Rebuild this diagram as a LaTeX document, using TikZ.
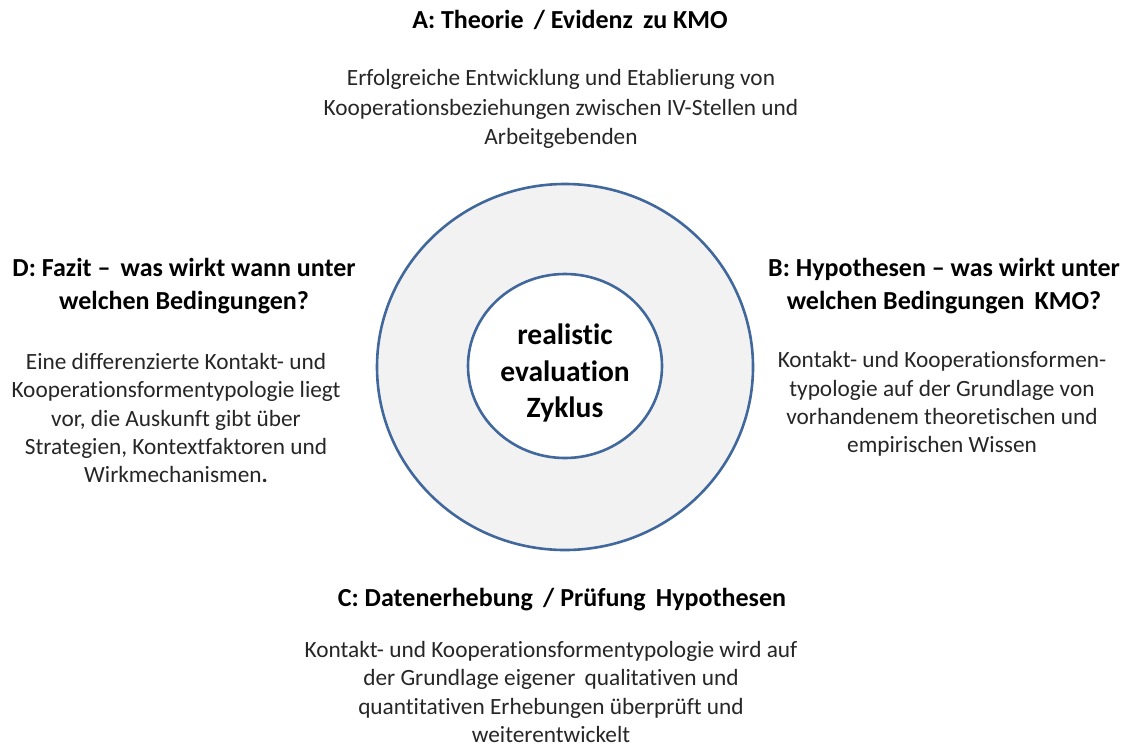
\documentclass[tikz,border=0pt]{standalone}
\usepackage{fontspec}
\setmainfont{Carlito}[Ligatures=NoCommon]
\usetikzlibrary{shapes.geometric}
\definecolor{ringblue}{HTML}{41689C}
\definecolor{ringfill}{HTML}{F2F2F2}
\definecolor{textgray}{HTML}{262626}
\begin{document}
\begin{tikzpicture}[x=1pt,y=-1pt,
  ring/.style={ellipse, draw=ringblue, line width=2.6pt, inner sep=0pt},
  head/.style={font=\fontsize{26}{32.5}\selectfont\bfseries, align=center, inner sep=0pt},
  body/.style={font=\fontsize{23.3}{28.3}\selectfont, align=center, inner sep=0pt, text=textgray},
  core/.style={font=\fontsize{29.5}{36.5}\selectfont\bfseries, align=center, inner sep=0pt}]
\useasboundingbox (0,0) rectangle (1129,747);
\fill[white] (0,0) rectangle (1129,747);

% the two rings of the cycle
\node (outer) [ring, fill=ringfill, minimum width=376pt, minimum height=366pt] at (565,367) {};
\node (inner) [ring, fill=white, minimum width=194pt, minimum height=184pt] at (565,366) {};
\node (cycle) [core] at (565,373) {realistic\\evaluation\\Zyklus};

% A: top
\node (Ahead) [head] at (570,20) {A: Theorie\,\ / Evidenz\,\ zu KMO};
\node (Abody) [body, font=\fontsize{23.3}{29.3}\selectfont] at (561,109) {Erfolgreiche Entwicklung und Etablierung von\\Kooperationsbeziehungen zwischen IV-Stellen und\\Arbeitgebenden};

% B: right
\node (Bhead) [head] at (944,286) {B: Hypothesen -- was wirkt unter\\welchen Bedingungen\,\ KMO?};
\node (Bbody) [body] at (942,404) {Kontakt- und Kooperationsformen-\\typologie auf der Grundlage von\\vorhandenem theoretischen und\\empirischen Wissen};

% C: bottom
\node (Chead) [head] at (562,600) {C: Datenerhebung\,\ / Prüfung\,\ Hypothesen};
\node (Cbody) [body] at (551,692) {Kontakt- und Kooperationsformentypologie wird auf\\der Grundlage eigener\, qualitativen und\\quantitativen Erhebungen überprüft und\\weiterentwickelt};

% D: left
\node (Dhead) [head] at (184,286) {D: Fazit --\,\ was wirkt wann unter\\welchen Bedingungen?};
\node (Dbody) [body] at (176,418) {Eine differenzierte Kontakt- und\\Kooperationsformentypologie liegt\\vor, die Auskunft gibt über\\Strategien, Kontextfaktoren und\\Wirkmechanismen\textbf{.}};
\end{tikzpicture}
\end{document}
